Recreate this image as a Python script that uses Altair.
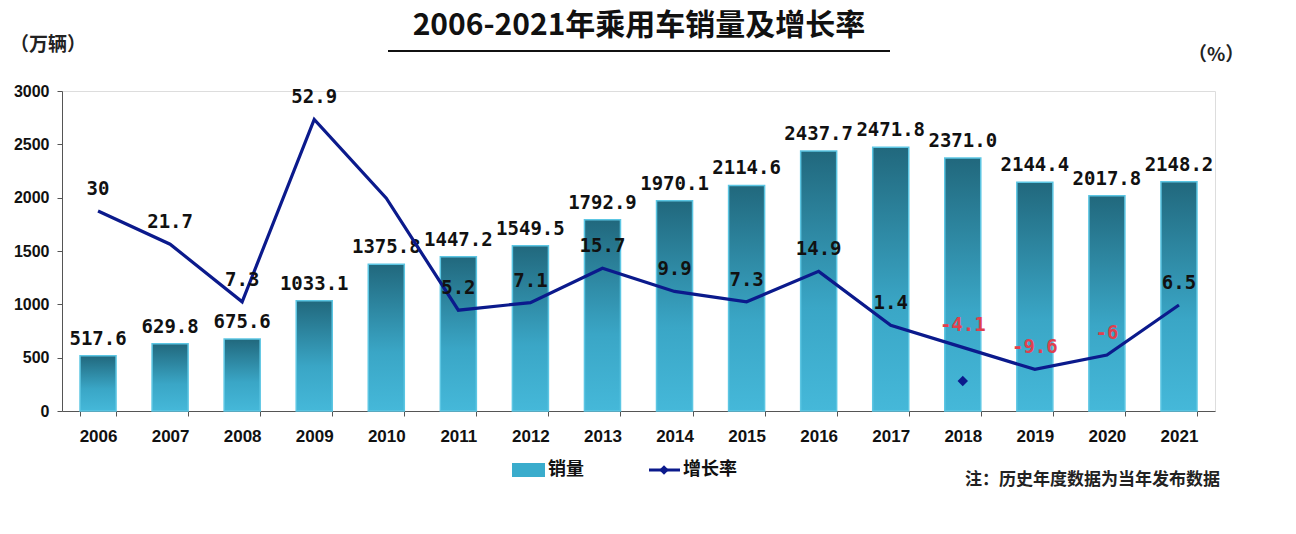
import altair as alt
import pandas as pd

years = [str(y) for y in range(2006, 2022)]
sales = [517.6, 629.8, 675.6, 1033.1, 1375.8, 1447.2, 1549.5, 1792.9, 1970.1,
         2114.6, 2437.7, 2471.8, 2371.0, 2144.4, 2017.8, 2148.2]
sales_labels = ["517.6", "629.8", "675.6", "1033.1", "1375.8", "1447.2", "1549.5",
                "1792.9", "1970.1", "2114.6", "2437.7", "2471.8", "2371.0",
                "2144.4", "2017.8", "2148.2"]
growth = [30, 21.7, 7.3, 52.9, 33.2, 5.2, 7.1, 15.7, 9.9, 7.3, 14.9, 1.4,
          -4.1, -9.6, -6, 6.5]
growth_labels = ["30", "21.7", "7.3", "52.9", "", "5.2", "7.1", "15.7", "9.9",
                 "7.3", "14.9", "1.4", "-4.1", "-9.6", "-6", "6.5"]
stray_year = ["2018"]
stray_value = [-12.5]

title_text = "2006-2021年乘用车销量及增长率"
left_unit = "（万辆）"
right_unit = "（%）"
legend_bar = "销量"
legend_line = "增长率"
note_text = "注：历史年度数据为当年发布数据"

df = pd.DataFrame({"year": years, "sales": sales, "slab": sales_labels,
                   "growth": growth, "glab": growth_labels})
df["neg"] = df["growth"] < 0
stray = pd.DataFrame({"year": stray_year, "v": stray_value})

W, H = 1153, 320
axis_font = "'Liberation Sans', sans-serif"
num_font = "DejaVu Sans Mono"
cjk = "Noto Sans CJK SC"

xenc = alt.X("year:N", sort=years, title=None,
             scale=alt.Scale(paddingInner=0.5, paddingOuter=0.25),
             axis=alt.Axis(labelAngle=0, labelFont=axis_font, labelFontSize=17,
                           labelFontWeight="bold", labelColor="#111",
                           labelPadding=12, domainColor="#555", tickColor="#555",
                           tickBand="extent", tickSize=5))

yl = alt.Y("sales:Q", title=None,
           scale=alt.Scale(domain=[0, 3000], nice=False),
           axis=alt.Axis(orient="left", values=list(range(0, 3001, 500)), grid=False,
                         format="d",
                         labelFont=axis_font, labelFontSize=16, labelFontWeight="bold",
                         labelColor="#111", labelPadding=8, domainColor="#555",
                         tickColor="#555", tickSize=5))

grad = alt.Gradient(gradient="linear",
                    stops=[alt.GradientStop(color="#21687d", offset=0),
                           alt.GradientStop(color="#3aa6c6", offset=0.6),
                           alt.GradientStop(color="#45b8d9", offset=1)],
                    x1=0, x2=0, y1=0, y2=1)

base = alt.Chart(df)
bars = base.mark_bar(color=grad, stroke="#5cc6e3", strokeWidth=1.5).encode(x=xenc, y=yl)
bar_labels = base.mark_text(font=num_font, fontSize=19, fontWeight="bold",
                            baseline="bottom", dy=-7,
                            color="#111").encode(x=xenc, y=yl, text="slab:N")
left_layer = alt.layer(bars, bar_labels)

yr = alt.Y("growth:Q", title=None,
           scale=alt.Scale(domain=[-20, 60], nice=False),
           axis=alt.Axis(orient="right", values=list(range(-20, 61, 10)), grid=False,
                         labelFont=axis_font, labelFontSize=16, labelFontWeight="bold",
                         labelColor="#111", labelPadding=6, domainColor="#555",
                         tickColor="#555", tickSize=5))

line = base.mark_line(color="#0b1a8c", strokeWidth=3.2).encode(x=xenc, y=yr)
line_labels = base.mark_text(font=num_font, fontSize=19, fontWeight="bold",
                             baseline="bottom", dy=-12).encode(
    x=xenc, y=yr, text="glab:N",
    color=alt.condition("datum.neg", alt.value("#e0404e"), alt.value("#111")))
diamond = alt.Chart(stray).mark_point(shape="diamond", filled=True, color="#0b1a8c",
                                      size=110, opacity=1).encode(
    x=alt.X("year:N", sort=years, scale=alt.Scale(paddingInner=0.5, paddingOuter=0.25)),
    y=alt.Y("v:Q", scale=alt.Scale(domain=[-20, 60], nice=False), axis=None))
right_layer = alt.layer(line, line_labels, diamond)

one = pd.DataFrame({"t": [title_text]})
title = alt.Chart(one).mark_text(font=cjk, fontSize=30, fontWeight="bold",
                                 color="#111").encode(
    x=alt.value(577), y=alt.value(-65), text="t:N")
underline = alt.Chart(one).mark_rule(color="#111", strokeWidth=2).encode(
    x=alt.value(326), x2=alt.value(828), y=alt.value(-40))

units = pd.DataFrame({"t": [left_unit]})
lu = alt.Chart(units).mark_text(font=cjk, fontSize=19, fontWeight="bold", align="left",
                                color="#222").encode(x=alt.value(-52), y=alt.value(-46), text="t:N")
ru = alt.Chart(pd.DataFrame({"t": [right_unit]})).mark_text(
    font=cjk, fontSize=19, fontWeight="bold", align="left", color="#222").encode(
    x=alt.value(1126), y=alt.value(-36), text="t:N")

sw = alt.Chart(one).mark_rect(color="#3aaccc").encode(
    x=alt.value(450), x2=alt.value(483), y=alt.value(372), y2=alt.value(386))
sw_t = alt.Chart(pd.DataFrame({"t": [legend_bar]})).mark_text(
    font=cjk, fontSize=18, fontWeight="bold", align="left", color="#111").encode(
    x=alt.value(486), y=alt.value(379), text="t:N")
lr = alt.Chart(one).mark_rule(color="#0b1a8c", strokeWidth=3).encode(
    x=alt.value(587), x2=alt.value(618), y=alt.value(379))
ld = alt.Chart(one).mark_point(shape="diamond", filled=True, color="#0b1a8c", size=90,
                               opacity=1).encode(x=alt.value(602), y=alt.value(379))
lr_t = alt.Chart(pd.DataFrame({"t": [legend_line]})).mark_text(
    font=cjk, fontSize=18, fontWeight="bold", align="left", color="#111").encode(
    x=alt.value(621), y=alt.value(379), text="t:N")
note = alt.Chart(pd.DataFrame({"t": [note_text]})).mark_text(
    font=cjk, fontSize=17, fontWeight="bold", align="left", color="#222").encode(
    x=alt.value(903), y=alt.value(389), text="t:N")

chart = alt.layer(left_layer, right_layer, title, underline, lu, ru,
                  sw, sw_t, lr, ld, lr_t, note).resolve_scale(y="independent").properties(
    width=W, height=H,
    autosize=alt.AutoSizeParams(type="none"),
    padding={"left": 54, "top": 83, "right": 65, "bottom": 115},
).configure_view(stroke=None).configure(background="white")

chart.save("out.html", embed_options={"renderer": "svg", "actions": False})
